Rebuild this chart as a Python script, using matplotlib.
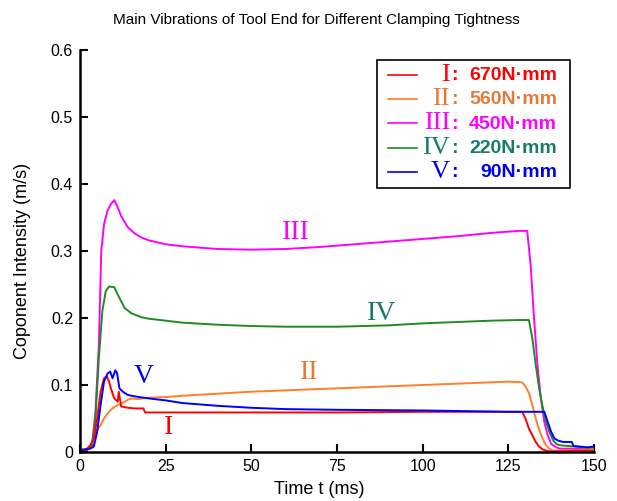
import numpy as np
import matplotlib
matplotlib.use("Agg")
from matplotlib import pyplot as plt
from matplotlib.patches import Rectangle

# clamping torque series (time in ms, intensity in m/s)
t_I = [0, 2, 3, 4, 5, 6, 7, 7.8, 8.5, 9, 10, 11, 11.3, 12, 14, 16, 18.5, 19, 30, 50, 75, 100, 125,
       129, 130, 131, 132, 133, 134, 135, 136, 137, 140, 145, 150]
v_I = [0.002, 0.004, 0.01, 0.02, 0.05, 0.09, 0.11, 0.113, 0.105, 0.095, 0.08, 0.075, 0.09, 0.068,
       0.066, 0.065, 0.065, 0.059, 0.059, 0.059, 0.059, 0.06, 0.06,
       0.06, 0.05, 0.035, 0.025, 0.015, 0.008, 0.004, 0.002, 0.001, 0.001, 0.002, 0.002]

t_II = [0, 2, 3, 4, 5, 6, 7, 8, 9, 10, 11, 12, 13, 14, 15, 17, 20, 25, 30, 40, 50, 60, 75, 90, 100,
        110, 120, 125, 129, 130, 131, 132, 133, 134, 135, 136, 137, 138, 140, 145, 150]
v_II = [0.003, 0.005, 0.01, 0.02, 0.033, 0.04, 0.05, 0.057, 0.063, 0.067, 0.07, 0.072, 0.075,
        0.078, 0.08, 0.079, 0.081, 0.082, 0.084, 0.087, 0.09, 0.092, 0.095, 0.098, 0.1,
        0.102, 0.104, 0.105, 0.104, 0.098, 0.088, 0.07, 0.05, 0.033, 0.02, 0.01, 0.005, 0.002,
        0.002, 0.003, 0.004]

t_III = [0, 2, 3.5, 4.5, 5.5, 6.2, 7, 8, 9, 10, 11, 12, 14, 16, 18, 20, 25, 30, 40, 50, 60, 70, 80,
         90, 100, 110, 120, 128, 130.5, 131.5, 132.5, 133.5, 134.5, 135.5, 136.5, 137.5, 139, 140,
         145, 148, 150]
v_III = [0.003, 0.004, 0.01, 0.06, 0.16, 0.3, 0.34, 0.36, 0.37, 0.376, 0.365, 0.352, 0.335, 0.326,
         0.32, 0.316, 0.31, 0.307, 0.303, 0.302, 0.303, 0.306, 0.31, 0.314, 0.318, 0.322, 0.327,
         0.33, 0.33, 0.28, 0.2, 0.13, 0.08, 0.045, 0.025, 0.012, 0.007, 0.005, 0.005, 0.004, 0.006]

t_IV = [0, 2, 3.5, 4.5, 5.5, 6.5, 7.5, 8.5, 10, 11, 12, 13, 15, 18, 20, 25, 30, 40, 50, 60, 75, 90,
        100, 110, 120, 128, 131, 132, 133, 134, 135, 136, 137, 138, 139, 140, 145, 150]
v_IV = [0.002, 0.003, 0.01, 0.05, 0.14, 0.21, 0.24, 0.247, 0.246, 0.235, 0.225, 0.215, 0.207,
        0.201, 0.199, 0.196, 0.193, 0.19, 0.188, 0.187, 0.187, 0.189, 0.192, 0.194, 0.196, 0.197,
        0.197, 0.17, 0.13, 0.095, 0.068, 0.045, 0.03, 0.018, 0.012, 0.01, 0.008, 0.005]

t_V = [0, 2, 3, 4, 5, 6, 7, 8, 8.8, 9.5, 10.3, 10.8, 11.5, 12.5, 14, 16, 20, 25, 30, 40, 50, 60, 75,
       100, 125, 135.5, 136.5, 137.5, 138.5, 139.5, 141, 143.5, 144, 148, 150]
v_V = [0.003, 0.004, 0.005, 0.008, 0.03, 0.07, 0.105, 0.117, 0.12, 0.11, 0.122, 0.118, 0.095, 0.09,
       0.085, 0.083, 0.08, 0.077, 0.073, 0.069, 0.066, 0.064, 0.063, 0.062, 0.06, 0.06, 0.045,
       0.03, 0.02, 0.017, 0.015, 0.015, 0.009, 0.007, 0.008]

numerals = ["I", "II", "III", "IV", "V"]
torques = ["670N\u00b7mm", "560N\u00b7mm", "450N\u00b7mm", "220N\u00b7mm", "90N\u00b7mm"]
line_colors = ["#ff0000", "#ff7f2a", "#ff00ff", "#1e8c1e", "#0000ff"]
text_colors = ["#ff0000", "#e07b39", "#ff00ff", "#1a7a6a", "#0000ee"]
# where the numeral sits next to each curve (t, v)
label_pos = [(25.7, 0.036), (67, 0.118), (63, 0.328), (88, 0.207), (18.5, 0.112)]

series = [(t_I, v_I), (t_II, v_II), (t_III, v_III), (t_IV, v_IV), (t_V, v_V)]

fig = plt.figure(figsize=(6.17, 5.01), dpi=100)
ax = fig.add_axes([0.1297, 0.0978, 0.833, 0.8024])

# draw order: big ones first so small ones sit on top
for i in [2, 3, 1, 0, 4]:
    t, v = series[i]
    ax.plot(t, v, color=line_colors[i], lw=1.4)

for i, (x, y) in enumerate(label_pos):
    ax.text(x, y, numerals[i], color=text_colors[i], fontsize=20,
            family="Liberation Serif", ha="center", va="center")

ax.set_xlim(0, 150)
ax.set_ylim(0, 0.6)
ax.set_xticks([0, 25, 50, 75, 100, 125, 150])
ax.set_yticks([0, 0.1, 0.2, 0.3, 0.4, 0.5, 0.6])
ax.set_yticklabels(["0", "0.1", "0.2", "0.3", "0.4", "0.5", "0.6"])
for s in ["top", "right"]:
    ax.spines[s].set_visible(False)
for s in ["left", "bottom"]:
    ax.spines[s].set_linewidth(1.8)
ax.tick_params(direction="in", length=6, width=1.5, labelsize=11.5, pad=5)
for lab in ax.get_xticklabels() + ax.get_yticklabels():
    lab.set_family("Liberation Sans")

fig.text(319 / 617, 1 - 490 / 501, "Time t (ms)", fontsize=13, family="Liberation Sans",
         ha="center", va="center")
fig.text(23 / 617, 0.48, "Coponent Intensity (m/s)", fontsize=13, family="Liberation Sans",
         ha="center", va="center", rotation=90)
fig.text(0.513, 0.96, "Main Vibrations of Tool End for Different Clamping Tightness",
         ha="center", va="center", fontsize=11, family="Liberation Sans")

# hand-made legend box
ax.add_patch(Rectangle((0.578, 0.656), 0.375, 0.319, transform=ax.transAxes, fill=False,
                       edgecolor="black", lw=1.2, clip_on=False))
for i in range(5):
    y = 0.938 - i * 0.0602
    ax.plot([0.599, 0.656], [y, y], color=line_colors[i], lw=1.2, transform=ax.transAxes)
    ax.text(0.720, y, numerals[i], color=text_colors[i], fontsize=19,
            family="Liberation Serif", ha="right", va="center", transform=ax.transAxes)
    ax.text(0.722, y - 0.002, ":", color=text_colors[i], fontsize=14, fontweight="bold",
            family="Liberation Sans", ha="left", va="center", transform=ax.transAxes)
    ax.text(0.928, y - 0.002, torques[i], color=text_colors[i], fontsize=14, fontweight="bold",
            family="Liberation Sans", ha="right", va="center", transform=ax.transAxes)

fig.savefig("out.png", dpi=100)
